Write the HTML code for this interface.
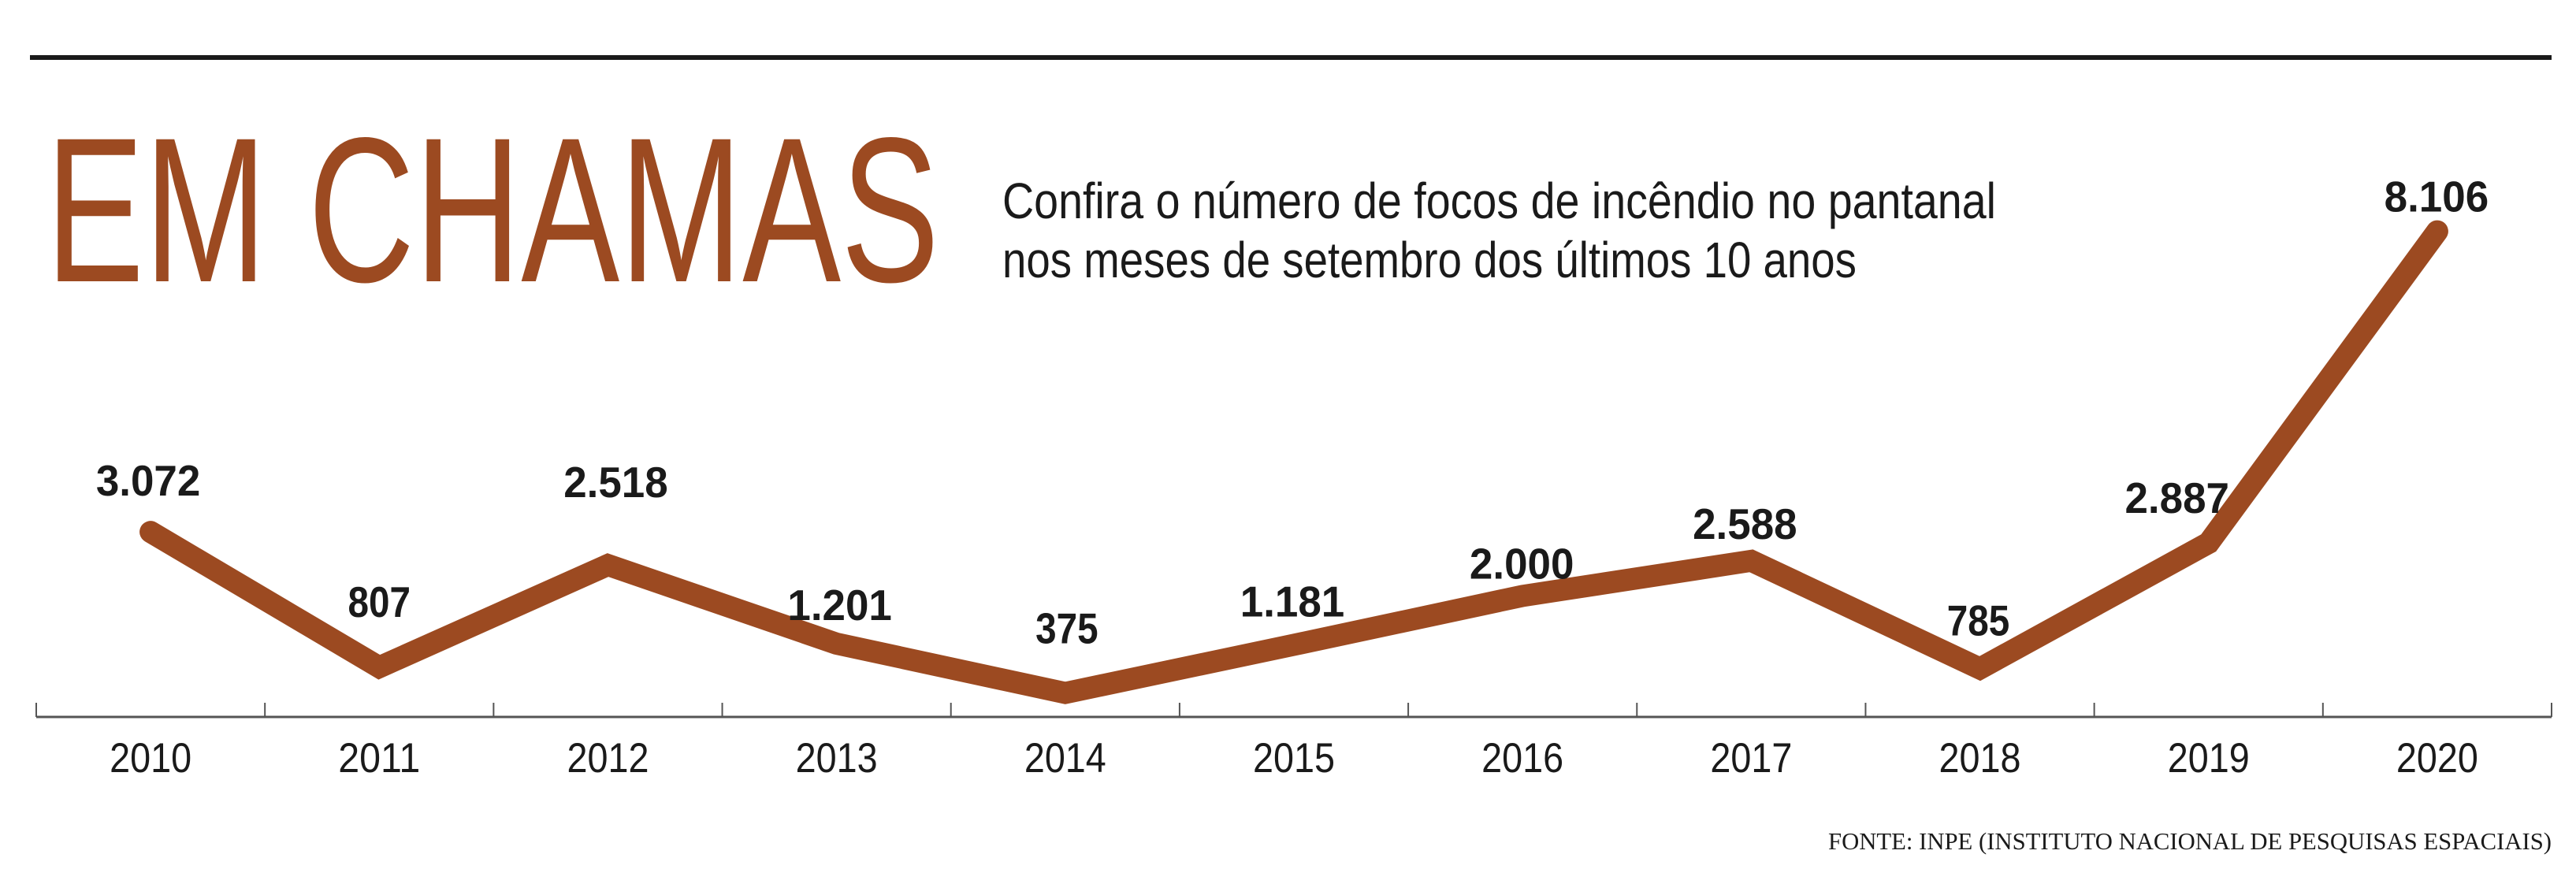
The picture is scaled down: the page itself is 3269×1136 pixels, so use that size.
<!DOCTYPE html>
<html><head><meta charset="utf-8"><style>
html,body{margin:0;padding:0;background:#fff;}
svg{display:block;}
</style></head><body>
<svg id="chart" width="3269" height="1136" viewBox="0 0 3269 1136" xmlns="http://www.w3.org/2000/svg">
<rect x="0" y="0" width="3269" height="1136" fill="#fff"/>
<rect x="38" y="70" width="3200" height="6" fill="#1a1a1a"/>
<text x="58" y="357" font-family="Liberation Sans, sans-serif" font-size="262" fill="#9c4a21" textLength="1134" lengthAdjust="spacingAndGlyphs">EM CHAMAS</text>
<text x="1272" y="277" font-family="Liberation Sans, sans-serif" font-size="64" fill="#1a1a1a" textLength="1261" lengthAdjust="spacingAndGlyphs">Confira o número de focos de incêndio no pantanal</text>
<text x="1272" y="352" font-family="Liberation Sans, sans-serif" font-size="64" fill="#1a1a1a" textLength="1084" lengthAdjust="spacingAndGlyphs">nos meses de setembro dos últimos 10 anos</text>
<g id="axis"></g>
<g id="series"></g>
<g id="labels"></g>
<text x="3238" y="1078" text-anchor="end" font-family="Liberation Serif, serif" font-size="31" fill="#1a1a1a" textLength="918" lengthAdjust="spacingAndGlyphs">FONTE: INPE (INSTITUTO NACIONAL DE PESQUISAS ESPACIAIS)</text>
</svg>
<script>
const years = ["2010","2011","2012","2013","2014","2015","2016","2017","2018","2019","2020"];
const fires = [3072, 807, 2518, 1201, 375, 1181, 2000, 2588, 785, 2887, 8106];
const valueLabels = ["3.072","807","2.518","1.201","375","1.181","2.000","2.588","785","2.887","8.106"];

const NS = "http://www.w3.org/2000/svg";
const x0 = 46, x1 = 3238, axisY = 910;
const step = (x1 - x0) / years.length;
function xPos(i){ return x0 + step * (i + 0.5); }
function yPos(v){ return 908 - v * 0.0758; }
const labelDy = [46, 64, 86, 30, 63, 36, 22, 28, 42, 38, 25];
const labelDx = [-3, 0, 10, 4, 2, -2, -1, -8, -2, -40, -1];

const axis = document.getElementById('axis');
const line = document.createElementNS(NS, 'line');


line.setAttribute('x1', x0); line.setAttribute('x2', x1);
line.setAttribute('y1', axisY); line.setAttribute('y2', axisY);
line.setAttribute('stroke', '#555'); line.setAttribute('stroke-width', '3');
axis.appendChild(line);
for (let i = 0; i <= years.length; i++) {
  const t = document.createElementNS(NS, 'line');
  
  
  const tx = x0 + step * i;
  t.setAttribute('x1', tx); t.setAttribute('x2', tx);
  t.setAttribute('y1', axisY - 18); t.setAttribute('y2', axisY);
  t.setAttribute('stroke', '#555'); t.setAttribute('stroke-width', '2');
  axis.appendChild(t);
}
years.forEach((y, i) => {
  const t = document.createElementNS(NS, 'text');
  
  
  t.setAttribute('x', xPos(i)); t.setAttribute('y', 980);
  t.setAttribute('text-anchor', 'middle');
  t.setAttribute('font-family', 'Liberation Sans, sans-serif');
  t.setAttribute('font-size', '53');
  t.setAttribute('fill', '#1a1a1a');
  t.setAttribute('textLength', '104');
  t.setAttribute('lengthAdjust', 'spacingAndGlyphs');
  t.textContent = y;
  axis.appendChild(t);
});

const series = document.getElementById('series');
const pts = fires.map((v, i) => xPos(i) + ',' + yPos(v)).join(' ');
const pl = document.createElementNS(NS, 'polyline');


pl.setAttribute('points', pts);
pl.setAttribute('fill', 'none');
pl.setAttribute('stroke', '#9c4a21');
pl.setAttribute('stroke-width', '28');
pl.setAttribute('stroke-linecap', 'round');
pl.setAttribute('stroke-linejoin', 'miter');
series.appendChild(pl);

const labels = document.getElementById('labels');
fires.forEach((v, i) => {
  const t = document.createElementNS(NS, 'text');
  
  
  t.setAttribute('x', xPos(i) + labelDx[i]);
  t.setAttribute('y', yPos(v) - labelDy[i]);
  t.setAttribute('text-anchor', 'middle');
  t.setAttribute('font-family', 'Liberation Sans, sans-serif');
  t.setAttribute('font-weight', 'bold');
  t.setAttribute('font-size', '55');
  t.setAttribute('fill', '#1a1a1a');
  t.setAttribute('textLength', String(valueLabels[i].length * 26.5));
  t.setAttribute('lengthAdjust', 'spacingAndGlyphs');
  t.textContent = valueLabels[i];
  labels.appendChild(t);
});
</script>
</body></html>
